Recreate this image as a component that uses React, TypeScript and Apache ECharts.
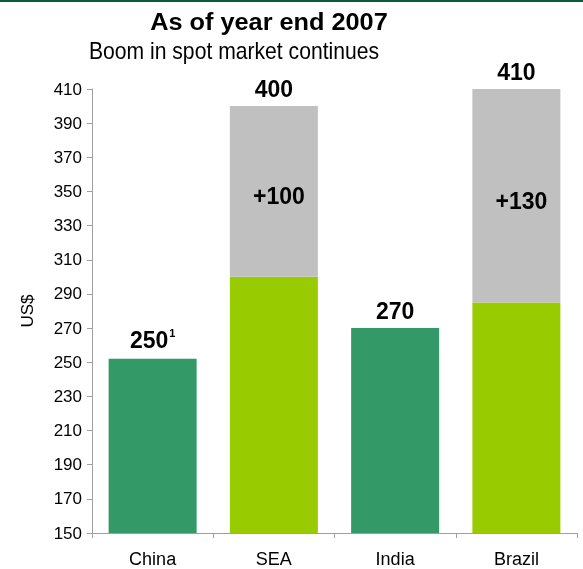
import React, { useEffect, useRef } from "react";
import * as echarts from "echarts";

const categories = ["China", "SEA", "India", "Brazil"];
const baseValues = [252, 300, 270, 285];
const baseColors = ["#339966", "#99CC00", "#339966", "#99CC00"];
const increaseValues = [null, 100, null, 125];
const increaseLabels = ["", "+100", "", "+130"];
const totalValues = [252, 400, 270, 410];
const totalLabels = ["250", "400", "270", "410"];
const footnotes = ["1", "", "", ""];

const FONT = "Liberation Sans, Arial, sans-serif";

export default function App() {
  const ref = useRef<HTMLDivElement>(null);
  useEffect(() => {
    const chart = echarts.init(ref.current!, null, { renderer: "svg" });
    chart.setOption({
      animation: false,
      textStyle: { fontFamily: FONT },
      grid: { left: 92, right: 6, top: 89, bottom: 36, containLabel: false },
      graphic: [
        { type: "rect", shape: { x: 0, y: 0, width: 583, height: 2 }, style: { fill: "#0b5a3a" } },
        {
          type: "text", x: 269, y: 22, scaleX: 1.1,
          style: { text: "As of year end 2007", font: `bold 23px ${FONT}`, fill: "#000", align: "center", verticalAlign: "middle" },
        },
        {
          type: "text", x: 234, y: 51, scaleX: 0.92,
          style: { text: "Boom in spot market continues", font: `23px ${FONT}`, fill: "#000", align: "center", verticalAlign: "middle" },
        },
      ],
      xAxis: {
        type: "category",
        data: categories,
        axisLine: { lineStyle: { color: "#a0a0a0" } },
        axisTick: { show: true, length: 5, lineStyle: { color: "#a0a0a0" } },
        axisLabel: { color: "#000", fontSize: 18, margin: 17, fontFamily: FONT },
      },
      yAxis: {
        type: "value",
        min: 150,
        max: 410,
        interval: 20,
        name: "US$",
        nameLocation: "middle",
        nameRotate: 90,
        nameGap: 56,
        nameTextStyle: { color: "#000", fontSize: 17, fontFamily: FONT },
        splitLine: { show: false },
        axisLine: { show: true, lineStyle: { color: "#a0a0a0" } },
        axisTick: { show: true, length: 5, lineStyle: { color: "#a0a0a0" } },
        axisLabel: { color: "#000", fontSize: 17, margin: 10, fontFamily: FONT },
      },
      series: [
        {
          type: "bar",
          stack: "s",
          barWidth: 88,
          data: baseValues.map((v, i) => ({ value: v, itemStyle: { color: baseColors[i] } })),
        },
        {
          type: "bar",
          stack: "s",
          barWidth: 88,
          itemStyle: { color: "#c0c0c0" },
          data: increaseValues.map((v) => ({ value: v })),
          label: {
            show: true,
            position: "inside",
            offset: [5, 5],
            formatter: (p: any) => increaseLabels[p.dataIndex],
            color: "#000",
            fontWeight: "bold",
            fontSize: 23,
            fontFamily: FONT,
          },
        },
        {
          type: "scatter",
          symbolSize: 0,
          silent: true,
          itemStyle: { opacity: 1 },
          data: totalValues,
          label: {
            show: true,
            position: "top",
            distance: 6,
            color: "#000",
            opacity: 1,
            textBorderWidth: 0,
            formatter: (p: any) => {
              const f = footnotes[p.dataIndex];
              return `{a|${totalLabels[p.dataIndex]}}` + (f ? `{s|${f}}` : "");
            },
            rich: {
              a: { fontSize: 23, fontWeight: "bold", color: "#000", fontFamily: FONT },
              s: { fontSize: 11, fontWeight: "bold", color: "#000", fontFamily: FONT, padding: [0, 0, 14, 1] },
            },
          },
        },
      ],
    });
    return () => chart.dispose();
  }, []);
  return <div ref={ref} style={{ position: "fixed", left: 0, top: 0, width: 583, height: 569 }} />;
}
